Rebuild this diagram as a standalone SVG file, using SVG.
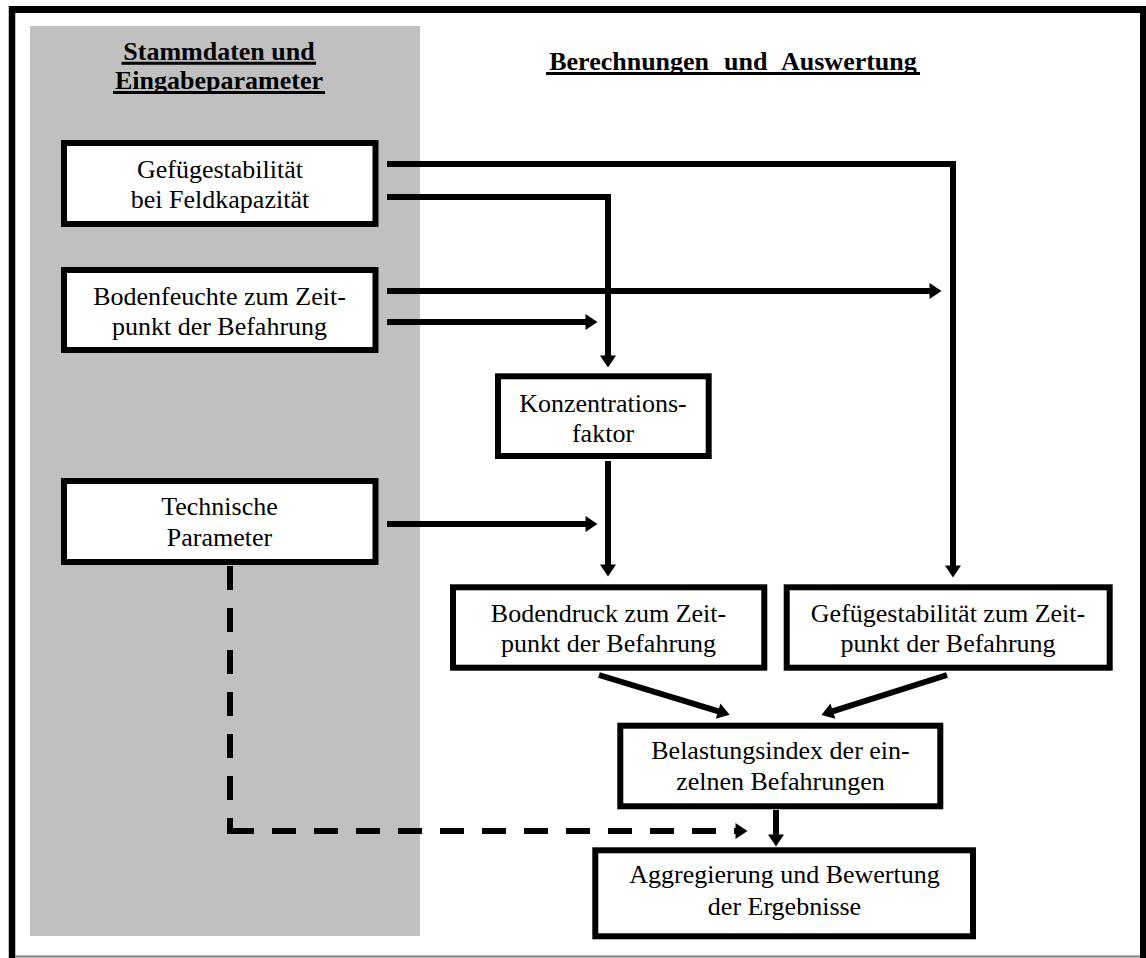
<svg xmlns="http://www.w3.org/2000/svg" width="1146" height="958" viewBox="0 0 1146 958">
  <style>
    .box { fill: #fff; stroke: #000; stroke-width: 6; }
    .lbl { font-family: 'Liberation Serif', 'Times New Roman', Times, serif; font-size: 26px; text-anchor: middle; fill: #000; }
    .hdr { font-weight: bold; }
    .ul { stroke: #000; stroke-width: 3; }
    .conn { fill: none; stroke: #000; stroke-width: 6; stroke-linejoin: miter; stroke-linecap: butt; }
    .dash { stroke-dasharray: 24 18; }
  </style>
  <defs>
    <marker id="ah" markerUnits="userSpaceOnUse" markerWidth="14" markerHeight="18" refX="0.5" refY="8" orient="auto" overflow="visible">
      <path d="M0,0 L12,8 L0,16 z" fill="#000"/>
    </marker>
  </defs>

  <rect width="1146" height="958" fill="#fff"/>
  <g id="frame">
    <line x1="9" y1="9.5" x2="1146" y2="9.5" stroke="#000" stroke-width="7"/>
    <line x1="12" y1="6" x2="12" y2="958" stroke="#000" stroke-width="6.5"/>
    <line x1="1143" y1="6" x2="1143" y2="958" stroke="#000" stroke-width="6"/>
    <line x1="15" y1="956.5" x2="1140" y2="956.5" stroke="#808080" stroke-width="2"/>
  </g>
  <rect id="panel" x="30" y="26" width="390" height="910" fill="#c0c0c0"/>

  <g id="hdr-left">
    <text class="lbl hdr" x="219" y="59.5" font-family="Liberation Serif">Stammdaten und</text>
    <text class="lbl hdr" x="219" y="88.5" font-family="Liberation Serif">Eingabeparameter</text>
    <line class="ul" x1="121.5" y1="63.3" x2="316" y2="63.3"/>
    <line class="ul" x1="113" y1="92.5" x2="325" y2="92.5"/>
  </g>
  <g id="hdr-right">
    <text class="lbl hdr" x="733" y="70" style="word-spacing:8.5px">Berechnungen und Auswertung</text>
    <line class="ul" x1="546" y1="73.5" x2="920" y2="73.5"/>
  </g>

  <g id="connectors">
    <path class="conn" d="M387,164 H953 V566" marker-end="url(#ah)"/>
    <path class="conn" d="M387,197 H608 V356" marker-end="url(#ah)"/>
    <path class="conn" d="M387,291 H930" marker-end="url(#ah)"/>
    <path class="conn" d="M387,322 H586" marker-end="url(#ah)"/>
    <path class="conn" d="M387,524 H586" marker-end="url(#ah)"/>
    <path class="conn" d="M608,461 V565" marker-end="url(#ah)"/>
    <path class="conn" d="M599,675 L718.6,711.3" marker-end="url(#ah)"/>
    <path class="conn" d="M947,675 L832.4,711.4" marker-end="url(#ah)"/>
    <path class="conn" d="M776,810 V835" marker-end="url(#ah)"/>
    <path class="conn dash" d="M230,566 V834"/>
    <path class="conn dash" d="M230,831 H736" marker-end="url(#ah)"/>
  </g>

  <g id="n-gefuege-fk">
    <rect class="box" x="64" y="143" width="311.5" height="81"/>
    <text class="lbl" x="220" y="178">Gefügestabilität</text>
    <text class="lbl" x="220" y="208">bei Feldkapazität</text>
  </g>
  <g id="n-bodenfeuchte">
    <rect class="box" x="64" y="270" width="311.5" height="80"/>
    <text class="lbl" x="219.5" y="305">Bodenfeuchte zum Zeit-</text>
    <text class="lbl" x="219.5" y="335">punkt der Befahrung</text>
  </g>
  <g id="n-technische">
    <rect class="box" x="64" y="481" width="311.5" height="81"/>
    <text class="lbl" x="219.5" y="515">Technische</text>
    <text class="lbl" x="219.5" y="546">Parameter</text>
  </g>
  <g id="n-konzentration">
    <rect class="box" x="498" y="376.3" width="210.7" height="79.7"/>
    <text class="lbl" x="603" y="411.7">Konzentrations-</text>
    <text class="lbl" x="603" y="441.7">faktor</text>
  </g>
  <g id="n-bodendruck">
    <rect class="box" x="453" y="587.3" width="311.3" height="80.4"/>
    <text class="lbl" x="608.5" y="621.7">Bodendruck zum Zeit-</text>
    <text class="lbl" x="608.5" y="651.7">punkt der Befahrung</text>
  </g>
  <g id="n-gefuege-zeit">
    <rect class="box" x="786.7" y="587.3" width="323" height="80.4"/>
    <text class="lbl" x="948" y="621.7">Gefügestabilität zum Zeit-</text>
    <text class="lbl" x="948" y="651.7">punkt der Befahrung</text>
  </g>
  <g id="n-belastung">
    <rect class="box" x="620.3" y="725.7" width="320" height="80.6"/>
    <text class="lbl" x="780.5" y="759.3">Belastungsindex der ein-</text>
    <text class="lbl" x="780.5" y="790">zelnen Befahrungen</text>
  </g>
  <g id="n-aggregierung">
    <rect class="box" x="595.3" y="850.3" width="377.7" height="86"/>
    <text class="lbl" x="784.5" y="883.3">Aggregierung und Bewertung</text>
    <text class="lbl" x="784.5" y="915">der Ergebnisse</text>
  </g>
</svg>
